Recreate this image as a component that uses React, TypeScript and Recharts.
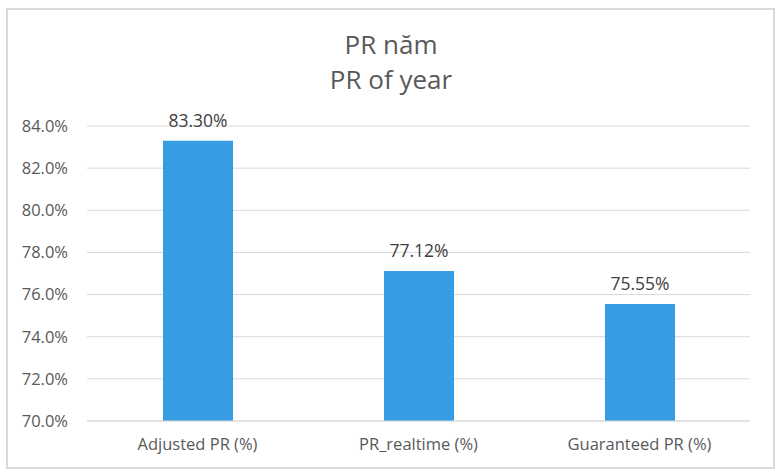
import React from "react";
import { BarChart, Bar, XAxis, YAxis, CartesianGrid, LabelList } from "recharts";

const categories = ["Adjusted PR (%)", "PR_realtime (%)", "Guaranteed PR (%)"];
const values = [83.3, 77.12, 75.55];
const valueLabels = ["83.30%", "77.12%", "75.55%"];
const yTicks = [70, 72, 74, 76, 78, 80, 82, 84];
const titleLines = ["PR năm", "PR of year"];

const data = categories.map((c, i) => ({ name: c, value: values[i], label: valueLabels[i] }));

const FONT = "'Open Sans', 'Noto Sans', sans-serif";

export default function App() {
  return (
    <div style={{ position: "absolute", left: 0, top: 0, width: 780, height: 473, background: "#fff", fontFamily: FONT }}>
      <div
        style={{
          position: "absolute",
          left: 6,
          top: 8,
          width: 765,
          height: 457,
          border: "2px solid #d9d9d9",
        }}
      />
      <div style={{ position: "absolute", left: 0, top: 0 }}>
        <BarChart width={780} height={473} data={data} margin={{ top: 126, right: 30, bottom: 22, left: 0 }} barSize={70}>
          <text x={391} y={54} textAnchor="middle" fill="#595959" fontSize={26} fontFamily={FONT}>
            {titleLines[0]}
          </text>
          <text x={391} y={89} textAnchor="middle" fill="#595959" fontSize={26} fontFamily={FONT}>
            {titleLines[1]}
          </text>
          <CartesianGrid vertical={false} stroke="#d9d9d9" strokeWidth={1} />
          <XAxis
            dataKey="name"
            height={30}
            axisLine={{ stroke: "#d9d9d9" }}
            tickLine={false}
            tick={{ fill: "#595959", fontSize: 16.5, fontFamily: FONT }}
            tickMargin={11}
          />
          <YAxis
            width={87}
            domain={[70, 84]}
            ticks={yTicks}
            allowDataOverflow
            axisLine={false}
            tickLine={false}
            tickSize={0}
            tickMargin={19}
            tickFormatter={(v: number) => v.toFixed(1) + "%"}
            tick={{ fill: "#595959", fontSize: 16.5, fontFamily: FONT }}
          />
          <Bar dataKey="value" fill="#369ce4" isAnimationActive={false}>
            <LabelList dataKey="label" position="top" offset={14} fill="#404040" fontSize={17.5} fontFamily={FONT} />
          </Bar>
        </BarChart>
      </div>
    </div>
  );
}
